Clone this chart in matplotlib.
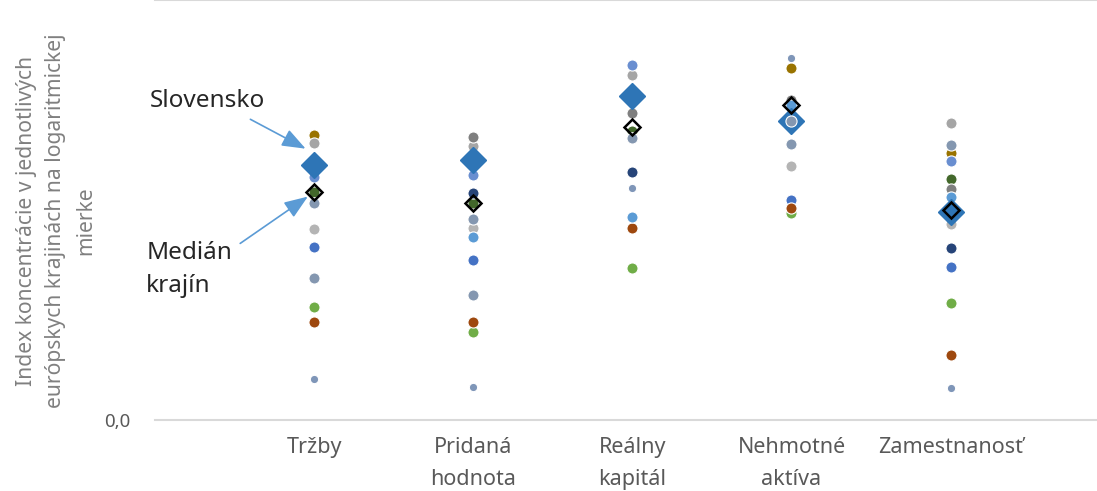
import numpy as np
import matplotlib
matplotlib.use('Agg')
import matplotlib.pyplot as plt

plt.rcParams['font.family'] = ['Noto Sans', 'DejaVu Sans']

# kategórie na osi x
categories = ['Tržby', 'Pridaná\nhodnota', 'Reálny\nkapitál', 'Nehmotné\naktíva', 'Zamestnanosť']

# jednotlivé krajiny (hodnoty pre 5 kategórií)
gold = [2.85, 2.82, 3.22, 3.52, 2.67]
gray_a = [2.77, 2.74, 3.45, 3.15, 2.97]
cornflower = [2.43, 2.45, 3.55, 3.15, 2.59]
dark_green = [2.28, 2.17, 2.89, 3.15, 2.41]
gray_blue_b = [1.42, 1.25, 3.24, 2.76, 2.08]
gray_b = [1.91, 1.92, 2.82, 2.54, 1.96]
royal = [1.73, 1.60, 3.24, 2.20, 1.53]
light_green = [1.13, 0.88, 1.52, 2.07, 1.17]
orange = [0.98, 0.98, 1.92, 2.12, 0.65]
navy = [2.55, 2.27, 2.48, 3.15, 1.72]
dark_gray = [2.55, 2.83, 3.07, 3.20, 2.31]
sky_blue = [2.55, 1.83, 2.03, 3.15, 2.23]
small_blue = [0.41, 0.33, 2.32, 3.62, 0.32]
gray_blue_a = [2.17, 2.01, 2.82, 2.99, 2.75]

slovensko = [2.55, 2.60, 3.24, 2.99, 2.08]
median = [2.28, 2.17, 2.93, 3.15, 2.10]

countries = [
    (gold, '#997300', 8),
    (gray_a, '#A5A5A5', 8),
    (cornflower, '#698ED0', 8),
    (dark_green, '#43682B', 8),
    (gray_blue_b, '#8497B0', 8),
    (gray_b, '#B4B4B4', 8),
    (royal, '#4472C4', 8),
    (light_green, '#70AD47', 8),
    (orange, '#9E480E', 8),
    (navy, '#264478', 8),
    (dark_gray, '#7F7F7F', 8),
    (sky_blue, '#5B9BD5', 8),
    (small_blue, '#7F96B8', 6),
]

x = np.arange(1, len(categories) + 1)

fig = plt.figure(figsize=(10.97, 4.91), dpi=100)
ax = fig.add_axes([0.1413, 0.1446, 0.8587, 0.8544])

for vals, color, ms in countries:
    ax.plot(x, vals, linestyle='none', marker='o', ms=ms, mfc=color,
            mec='white', mew=0.8, zorder=3)

# Slovensko
ax.plot(x, slovensko, linestyle='none', marker='D', ms=13, mfc='#2E75B6',
        mec='#2E75B6', zorder=4)
ax.plot(x, gray_blue_a, linestyle='none', marker='o', ms=8, mfc='#8497B0',
        mec='white', mew=0.8, zorder=5)
# medián krajín
ax.plot(x, median, linestyle='none', marker='D', ms=8, mfc='none',
        mec='black', mew=1.8, zorder=6)

ax.set_xlim(0, 5.92)
ax.set_ylim(0, 4.195)
ax.set_xticks(x)
ax.set_xticklabels(categories, fontsize=15.5, color='#595959', linespacing=1.7)
ax.set_yticks([0])
ax.set_yticklabels(['0,0'], fontsize=13.5, color='#595959')
ax.tick_params(length=0, axis='x', pad=12)
ax.tick_params(length=0, axis='y', pad=18)

for side in ['left', 'right']:
    ax.spines[side].set_visible(False)
ax.spines['bottom'].set_color('#D9D9D9')
ax.spines['bottom'].set_linewidth(1.5)
ax.spines['top'].set_color('#D9D9D9')
ax.spines['top'].set_linewidth(1.5)

fig.text(0.051, 0.55,
         'Index koncentrácie v jednotlivých\neurópskych krajinách na logaritmickej\nmierke',
         rotation=90, ha='center', va='center', fontsize=15.2, color='#808080',
         linespacing=1.55)

# popisy so šípkami
arrow = dict(arrowstyle='-|>,head_length=1.45,head_width=0.55', color='#5B9BD5', lw=1.2)
ax.annotate('', xy=(0.962, 2.70), xytext=(0.584, 3.02), arrowprops=arrow,
            annotation_clip=False)
ax.annotate('', xy=(0.975, 2.25), xytext=(0.521, 1.75), arrowprops=arrow,
            annotation_clip=False)
ax.text(-0.035, 3.19, 'Slovensko', fontsize=17.5, color='#262626', va='center',
        ha='left', clip_on=False)
ax.text(-0.055, 1.50, 'Medián\nkrajín', fontsize=17.5, color='#262626', va='center',
        ha='left', linespacing=1.5, clip_on=False)

fig.savefig('out.png', dpi=100)
